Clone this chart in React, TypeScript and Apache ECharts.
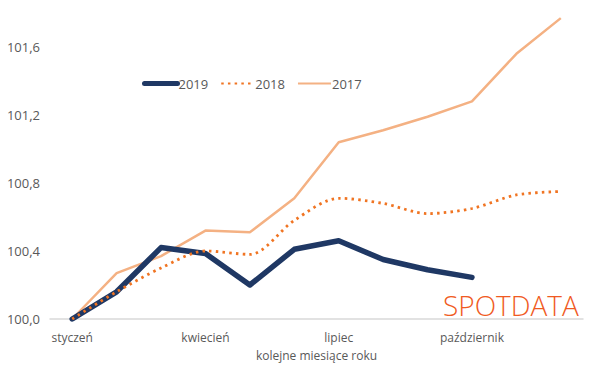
import React, { useEffect, useRef } from "react";
import * as echarts from "echarts";

const months = [
  "styczeń", "luty", "marzec", "kwiecień", "maj", "czerwiec",
  "lipiec", "sierpień", "wrzesień", "październik", "listopad", "grudzień",
];
const s2019 = [100.0, 100.16, 100.42, 100.385, 100.2, 100.41, 100.46, 100.35, 100.29, 100.245];
const s2018 = [100.0, 100.16, 100.3, 100.4, 100.38, 100.58, 100.71, 100.68, 100.62, 100.65, 100.73, 100.75];
const s2017 = [100.0, 100.27, 100.37, 100.52, 100.51, 100.71, 101.04, 101.11, 101.19, 101.28, 101.56, 101.77];

const FONT = "'Open Sans', 'Noto Sans', sans-serif";
const TXT = "#595959";

export default function App() {
  const ref = useRef<HTMLDivElement>(null);
  useEffect(() => {
    const chart = echarts.init(ref.current!, null, { renderer: "svg" });
    chart.setOption({
      animation: false,
      textStyle: { fontFamily: FONT },
      grid: { left: 50, right: 17, top: 13, bottom: 45 },
      legend: {
        left: 137,
        top: 72,
        itemWidth: 33,
        itemHeight: 10,
        itemGap: 12,
        itemStyle: { opacity: 0 },
        textStyle: { color: TXT, fontSize: 13, fontFamily: FONT, padding: [0, 0, 0, -4] },
        data: [
          { name: "2019", lineStyle: { width: 5 } },
          { name: "2018" },
          { name: "2017" },
        ],
      },
      xAxis: {
        type: "category",
        data: months,
        boundaryGap: true,
        axisLine: { lineStyle: { color: "#D9D9D9", width: 1.5 } },
        axisTick: { show: false },
        axisLabel: { interval: 2, color: TXT, fontSize: 12, margin: 12 },
        name: "kolejne miesiące roku",
        nameLocation: "middle",
        nameGap: 30,
        nameTextStyle: { color: TXT, fontSize: 12 },
      },
      yAxis: {
        type: "value",
        min: 100,
        max: 101.8,
        interval: 0.4,
        splitLine: { show: false },
        axisLine: { show: false },
        axisTick: { show: false },
        axisLabel: {
          color: TXT,
          fontSize: 13,
          margin: 10,
          showMaxLabel: false,
          formatter: (v: number) =>
            Math.abs((v - 100) / 0.4 - Math.round((v - 100) / 0.4)) < 1e-6
              ? v.toFixed(1).replace(".", ",")
              : "",
        },
      },
      series: [
        {
          name: "2017",
          type: "line",
          data: s2017,
          symbol: "none",
          z: 1,
          lineStyle: { color: "#F4B183", width: 2.5 },
          itemStyle: { color: "#F4B183" },
        },
        {
          name: "2018",
          type: "line",
          data: s2018,
          symbol: "none",
          smooth: 0.3,
          z: 3,
          lineStyle: { color: "#F07422", width: 2.8, type: [2.5, 4.2] },
          itemStyle: { color: "#F07422" },
        },
        {
          name: "2019",
          type: "line",
          data: s2019,
          symbol: "none",
          z: 2,
          lineStyle: { color: "#1F3864", width: 5.5, cap: "round", join: "round" },
          itemStyle: { color: "#1F3864" },
        },
      ],
      graphic: [
        {
          type: "text",
          left: 443,
          top: 291,
          style: {
            text: "SPOTDATA",
            fill: "#F05A22",
            font: `300 28px ${FONT}`,
          },
        },
      ],
    });
    return () => chart.dispose();
  }, []);
  return <div ref={ref} style={{ width: 600, height: 366, position: "absolute", left: 0, top: 0 }} />;
}
